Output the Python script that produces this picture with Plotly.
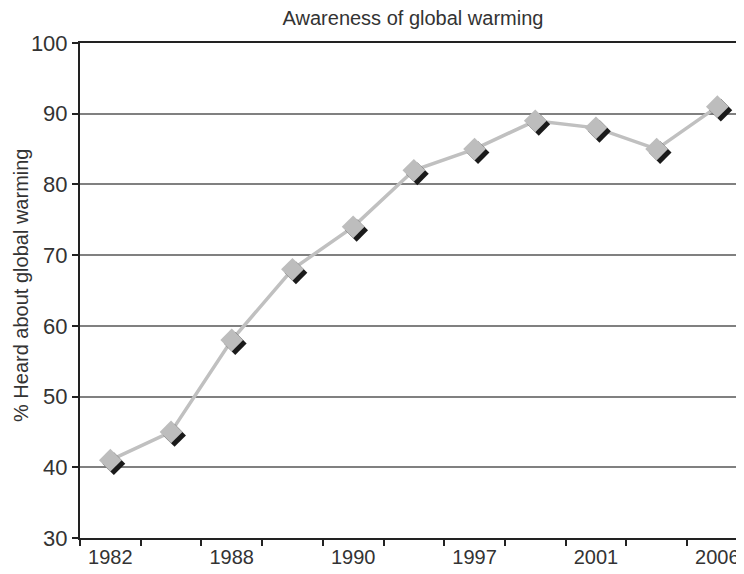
import plotly.graph_objects as go

# Data
x_labels = ["1982", "", "1988", "", "1990", "", "1997", "", "2001", "", "2006"]
awareness = [41, 45, 58, 68, 74, 82, 85, 89, 88, 85, 91]
y_ticks = [30, 40, 50, 60, 70, 80, 90, 100]

idx = list(range(len(awareness)))
label_pos = [i for i, t in enumerate(x_labels) if t]
label_txt = [t for t in x_labels if t]
boundaries = [i - 0.5 for i in range(len(awareness) + 1)]

# page body has an 8px margin; compensate
off = 8
W, H = 744 - off, 574 - off
ml, mt, mb, mr = 80 - off, 43 - off, 36, 0
pw = W - ml - mr
ph = H - mt - mb
slot = 60.7
x0 = -0.5
x1 = x0 + pw / slot
y0, y1 = 30, 100
ppu_y = ph / (y1 - y0)

# shadow offset in pixels -> data units
dx = 3.5 / slot
dy = 3.5 / ppu_y

font = "Liberation Sans"
txt = "#333333"

fig = go.Figure()
fig.add_trace(go.Scatter(x=idx, y=awareness, mode="lines",
                         line=dict(color="#c0c0c0", width=3.5),
                         xaxis="x", yaxis="y", hoverinfo="skip", showlegend=False))
fig.add_trace(go.Scatter(x=idx, y=awareness, mode="markers",
                         marker=dict(symbol="diamond", size=17.5, color="#1a1a1a",
                                     line=dict(width=0)),
                         xaxis="x2", yaxis="y2", hoverinfo="skip", showlegend=False,
                         cliponaxis=False))
fig.add_trace(go.Scatter(x=idx, y=awareness, mode="markers",
                         marker=dict(symbol="diamond", size=17.5, color="#bdbdbd",
                                     line=dict(width=0)),
                         xaxis="x3", yaxis="y3", showlegend=False, cliponaxis=False))

fig.update_layout(
    width=W, height=H,
    margin=dict(l=ml, r=mr, t=mt, b=mb, autoexpand=False),
    paper_bgcolor="white", plot_bgcolor="white",
    font=dict(family=font, color=txt),
    title=dict(text="Awareness of global warming", x=(413 - off) / W,
               xanchor="center", y=1 - (18 - off) / H, yanchor="middle",
               font=dict(size=20, color=txt, family=font)),
    xaxis=dict(range=[x0, x1], tickvals=label_pos, ticktext=label_txt,
               ticks="", showgrid=False, zeroline=False, automargin=False,
               showline=True, linecolor="#222222", linewidth=2, mirror=True,
               tickfont=dict(size=20, color=txt),
               minor=dict(tickvals=boundaries, ticks="outside", ticklen=6,
                          tickwidth=1.5, tickcolor="#222222", showgrid=False)),
    yaxis=dict(range=[y0, y1], tickvals=y_ticks, ticks="outside", ticklen=6,
               tickwidth=1.5, tickcolor="#222222", automargin=False,
               showgrid=True, gridcolor="#808080", gridwidth=1.5,
               zeroline=False, showline=True, linecolor="#222222", linewidth=2,
               tickfont=dict(size=22, color=txt)),
    xaxis2=dict(range=[x0 - dx, x1 - dx], overlaying="x", visible=False),
    yaxis2=dict(range=[y0 + dy, y1 + dy], overlaying="y", visible=False),
    xaxis3=dict(range=[x0, x1], overlaying="x", visible=False),
    yaxis3=dict(range=[y0, y1], overlaying="y", visible=False),
    annotations=[dict(text="% Heard about global warming", textangle=-90,
                      xref="paper", yref="paper",
                      x=(21 - off - ml) / pw, y=1 - (285 - off - mt) / ph,
                      xanchor="center", yanchor="middle", showarrow=False,
                      borderpad=0,
                      font=dict(size=20, color=txt, family=font))],
)

fig.write_html("out.html")
